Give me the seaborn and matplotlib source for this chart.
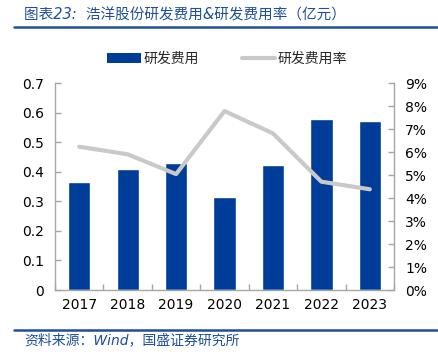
import numpy as np
import pandas as pd
import seaborn as sns
import matplotlib.pyplot as plt
from matplotlib.lines import Line2D
from matplotlib.patches import Patch
from matplotlib.ticker import PercentFormatter

years = ["2017", "2018", "2019", "2020", "2021", "2022", "2023"]
rd_expense = [0.366, 0.408, 0.428, 0.315, 0.423, 0.578, 0.573]  # 亿元
rd_ratio = [6.23, 5.90, 5.04, 7.78, 6.81, 4.71, 4.38]  # %

BAR_BLUE = "#003D99"
LINE_GRAY = "#C9C9C9"
TITLE_BLUE = "#1F4E9A"
AXIS_GRAY = "#A6A6A6"

sns.set_theme(style="white")
plt.rcParams["font.family"] = ["DejaVu Sans", "Noto Sans CJK SC"]

df = pd.DataFrame({"year": years, "expense": rd_expense, "ratio": rd_ratio})

fig = plt.figure(figsize=(4.38, 3.6), dpi=100)
ax = fig.add_axes([0.1256, 0.1944, 0.774, 0.575])

sns.barplot(data=df, x="year", y="expense", color=BAR_BLUE, width=0.46,
            saturation=1, ax=ax)
ax.set_xlim(-0.5, 6.5)
ax.set_ylim(0, 0.7)
ax.set_yticks(np.arange(0, 0.71, 0.1))
ax.set_yticklabels(["0"] + [f"{v:.1f}" for v in np.arange(0.1, 0.71, 0.1)])
ax.set_xlabel("")
ax.set_ylabel("")

ax2 = ax.twinx()
sns.lineplot(data=df, x="year", y="ratio", color=LINE_GRAY, linewidth=3,
             ax=ax2, sort=False)
ax2.set_ylim(0, 9)
ax2.set_yticks(range(0, 10))
ax2.yaxis.set_major_formatter(PercentFormatter(decimals=0))
ax2.set_ylabel("")
ax2.set_xlim(-0.5, 6.5)

for a in (ax, ax2):
    a.spines["top"].set_visible(False)
    for s in a.spines.values():
        s.set_color(AXIS_GRAY)
        s.set_linewidth(1)
    a.tick_params(labelsize=10, colors="black", length=4, direction="in",
                  color=AXIS_GRAY, width=1)
ax.spines["right"].set_visible(False)
ax2.spines["left"].set_visible(False)
ax2.spines["bottom"].set_visible(False)
ax.tick_params(axis="x", length=0, pad=6)
ax.tick_params(axis="y", pad=8)
ax2.tick_params(axis="y", pad=8)
# category separator ticks on x axis
ax.set_xticks(np.arange(-0.5, 7, 1), minor=True)
ax.tick_params(axis="x", which="minor", length=4, direction="in",
               color=AXIS_GRAY, bottom=True)

handles = [Patch(facecolor=BAR_BLUE, edgecolor="none"),
           Line2D([0], [0], color=LINE_GRAY, linewidth=3)]
fig.legend(handles, ["研发费用", "研发费用率"], loc="center",
           bbox_to_anchor=(0.519, 0.836), ncol=2, frameon=False,
           handlelength=2.4, handletextpad=0.2, columnspacing=3.1,
           prop={"family": ["Noto Sans CJK SC"], "size": 10})

fig.text(0.055, 0.958, "图表23:  浩洋股份研发费用&研发费用率（亿元）",
         color=TITLE_BLUE, fontsize=10.5, style="italic",
         family=["DejaVu Sans", "Noto Sans CJK SC"], va="center")
fig.add_artist(Line2D([0.032, 0.998], [0.925, 0.925], color=TITLE_BLUE,
                      linewidth=1.8))
fig.add_artist(Line2D([0.032, 0.998], [0.083, 0.083], color=TITLE_BLUE,
                      linewidth=1.8))
fig.text(0.055, 0.055, "资料来源：Wind，国盛证券研究所",
         color=TITLE_BLUE, fontsize=10, style="italic",
         family=["DejaVu Sans", "Noto Sans CJK SC"], va="center")

fig.savefig("out.png", dpi=100)
